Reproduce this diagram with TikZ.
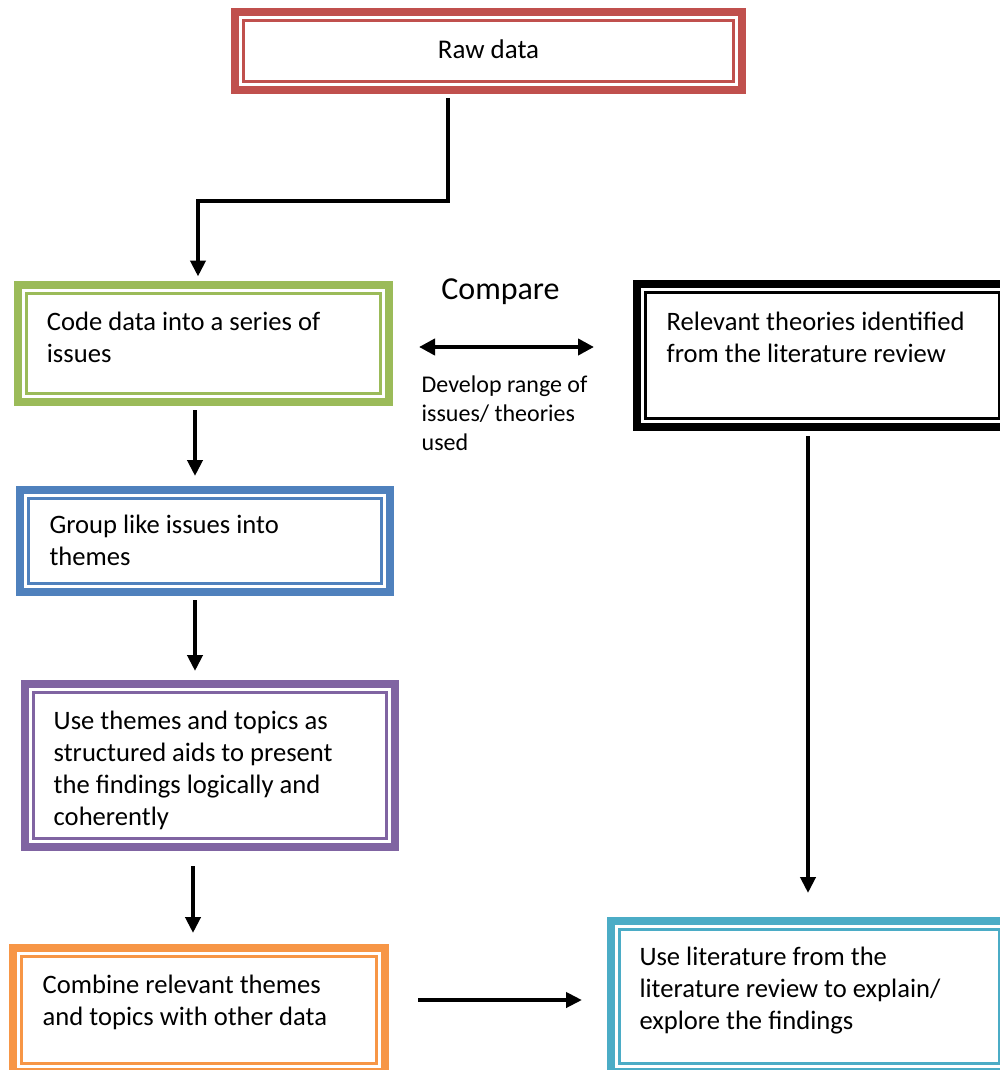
\documentclass[tikz,border=0pt]{standalone}
\usepackage{fontspec}
\setmainfont{Carlito}
\usetikzlibrary{arrows.meta,calc}

\definecolor{boxred}{HTML}{C0504D}
\definecolor{boxgreen}{HTML}{9BBB59}
\definecolor{boxblue}{HTML}{4F81BD}
\definecolor{boxpurple}{HTML}{8064A2}
\definecolor{boxorange}{HTML}{F79646}
\definecolor{boxaqua}{HTML}{4BACC6}

\begin{document}
\begin{tikzpicture}[x=1pt,y=-1pt,
  % thick outer border with a thin inner rule
  frame/.style={rectangle, draw=#1, line width=8pt, fill=white, inner sep=0pt,
    path picture={\draw[#1, line width=2.6pt]
      ([shift={(8.6pt,-8.6pt)}]path picture bounding box.north west) rectangle
      ([shift={(-8.6pt,8.6pt)}]path picture bounding box.south east);}},
  body/.style={font=\fontsize{26.6}{32.2}\selectfont, align=flush left, anchor=base west,
    inner sep=0pt, text width=350pt},
  link/.style={line width=4.5pt, -{Triangle[length=16pt,width=15pt]}},
  twoway/.style={line width=4.5pt, {Triangle[length=16pt,width=16pt]}-{Triangle[length=16pt,width=16pt]}},
]
\useasboundingbox (0,0) rectangle (1000,1070);
\clip (0,0) rectangle (1000,1070);

% boxes
\node[frame=boxred,    minimum width=507pt, minimum height=78pt]  (raw)   at (488.5,51)   {};
\node[frame=boxgreen,  minimum width=371pt, minimum height=117pt] (code)  at (203.5,343.5) {};
\node[frame=black,     minimum width=371pt, minimum height=143pt] (theo)  at (822.5,355.5) {};
\node[frame=boxblue,   minimum width=370pt, minimum height=102pt] (group) at (205,541)     {};
\node[frame=boxpurple, minimum width=370pt, minimum height=163pt] (use)   at (210,765.5)   {};
\node[frame=boxorange, minimum width=372pt, minimum height=124pt] (comb)  at (199,1010)    {};
\node[frame=boxaqua,   minimum width=397pt, minimum height=151pt] (lit)   at (809.5,996.5) {};

% box texts
\node[font=\fontsize{27}{32}\selectfont, anchor=base, inner sep=0pt] (rawtxt) at (488.5,59) {Raw data};
\node[body] (codetxt)  at (46.7,330)  {Code data into a series of\\issues};
\node[body] (theotxt)  at (666.5,330) {Relevant theories identified\\from the literature review};
\node[body] (grouptxt) at (49.3,533.5) {Group like issues into\\themes};
\node[body] (usetxt)   at (53.5,729)  {Use themes and topics as\\structured aids to present\\the findings logically and\\coherently};
\node[body] (combtxt)  at (42.5,993)  {Combine relevant themes\\and topics with other data};
\node[body] (littxt)   at (639.3,965.5) {Use literature from the\\literature review to explain/\\explore the findings};

% labels of the comparison link
\node[font=\fontsize{32}{38}\selectfont, anchor=base, inner sep=0pt] (cmp) at (500.5,299) {Compare};
\node[font=\fontsize{24}{29}\selectfont, align=flush left, anchor=base west, inner sep=0pt, text width=200pt]
  (dev) at (421.5,392.5) {Develop range of\\issues/ theories\\used};

% connectors
\coordinate (rawout) at ($(raw.south)+(-40.5,4)$);
\draw[link] (rawout) |- (198,201) -- ($(code.north)+(-5.5,-4.5)$);
\draw[twoway] ($(code.east)+(26,3.5)$) -- ($(theo.west)+(-39,-8.5)$);
\draw[link] ($(code.south)+(-8.5,4)$) -- ($(group.north)+(-10,-10)$);
\draw[link] ($(group.south)+(-10,4)$) -- ($(use.north)+(-15,-9)$);
\draw[link] ($(use.south)+(-17,15)$) -- ($(comb.north)+(-6,-11)$);
\draw[link] ($(theo.south)+(-14.5,5)$) -- ($(lit.north)+(-1.5,-24)$);
\draw[link] ($(comb.east)+(29,-10)$) -- ($(lit.west)+(-25,3.5)$);
\end{tikzpicture}
\end{document}
